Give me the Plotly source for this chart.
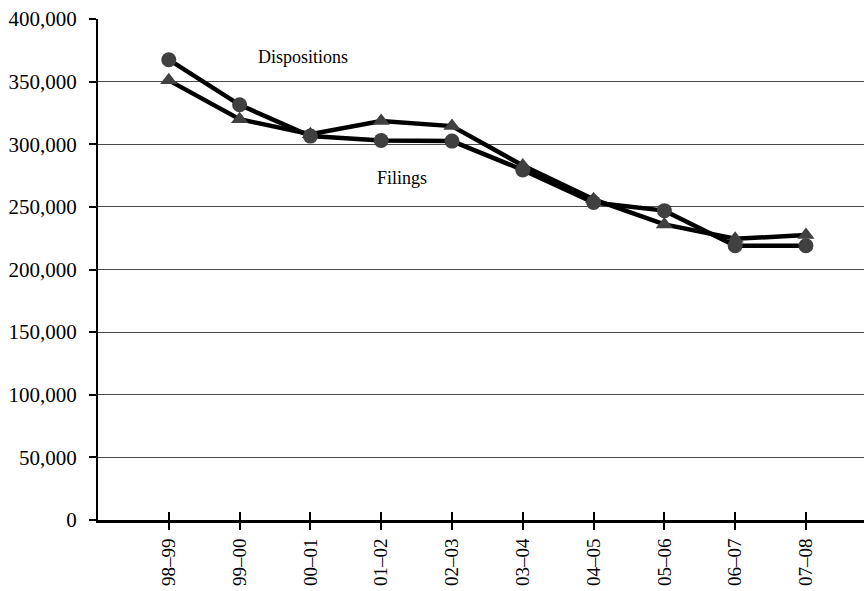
import plotly.graph_objects as go

periods = ["98–99", "99–00", "00–01", "01–02", "02–03", "03–04", "04–05", "05–06", "06–07", "07–08"]
dispositions = [367500, 331500, 306500, 303000, 302500, 279500, 253500, 247000, 219000, 219000]
filings = [351000, 320000, 308000, 318500, 314500, 283000, 256000, 236000, 224500, 227500]
y_ticks = [0, 50000, 100000, 150000, 200000, 250000, 300000, 350000, 400000]
y_tick_labels = ["0", "50,000", "100,000", "150,000", "200,000", "250,000", "300,000", "350,000", "400,000"]

FONT = "Liberation Serif, serif"
MARK = "#404040"

fig = go.Figure()
fig.add_trace(go.Scatter(
    x=periods, y=filings, mode="lines+markers", name="Filings",
    line=dict(color="black", width=4.5),
    marker=dict(symbol="triangle-up", size=15, color=MARK),
))
fig.add_trace(go.Scatter(
    x=periods, y=dispositions, mode="lines+markers", name="Dispositions",
    line=dict(color="black", width=4.5),
    marker=dict(symbol="circle", size=15, color=MARK),
))
# invisible trace on an overlaid axis that carries the inward half of the crossing ticks
fig.add_trace(go.Scatter(x=periods, y=filings, xaxis="x2", mode="markers",
                         marker=dict(opacity=0), showlegend=False, hoverinfo="skip"))

fig.add_annotation(x=1.89, y=370000, text="Dispositions", showarrow=False,
                   font=dict(family=FONT, size=18, color="black"))
fig.add_annotation(x=3.29, y=273000, text="Filings", showarrow=False,
                   font=dict(family=FONT, size=18, color="black"))

fig.update_layout(
    template="none",
    width=864, height=591,
    margin=dict(l=98, r=0, t=19, b=71, autoexpand=False),
    paper_bgcolor="white", plot_bgcolor="white",
    showlegend=False,
    font=dict(family=FONT, size=20, color="black"),
    xaxis=dict(
        type="category", range=[-1, 9.82], automargin=False,
        showgrid=False, zeroline=False,
        showline=True, linecolor="black", linewidth=3,
        ticks="outside", ticklen=7, tickwidth=2, tickcolor="black",
        tickangle=-90, tickfont=dict(family=FONT, size=19, color="black"),
        ticklabelstandoff=1, ticklabeloverflow="allow",
    ),
    xaxis2=dict(
        type="category", range=[-1, 9.82], overlaying="x", side="bottom",
        automargin=False,
        showgrid=False, zeroline=False, showline=False,
        ticks="inside", ticklen=8, tickwidth=2, tickcolor="black",
        showticklabels=False,
    ),
    yaxis=dict(
        range=[0, 400000], tickvals=y_ticks, ticktext=y_tick_labels,
        automargin=False,
        showgrid=True, gridcolor="#4a4a4a", gridwidth=1,
        zeroline=False,
        showline=True, linecolor="black", linewidth=2,
        ticks="outside", ticklen=7, tickwidth=1.5, tickcolor="black",
        tickfont=dict(family=FONT, size=21, color="black"),
        ticklabelstandoff=8, ticklabeloverflow="allow",
    ),
)

fig.write_html(
    "out.html",
    config={"displayModeBar": False},
    post_script="document.body.style.margin='0';document.body.style.overflow='hidden';",
)
